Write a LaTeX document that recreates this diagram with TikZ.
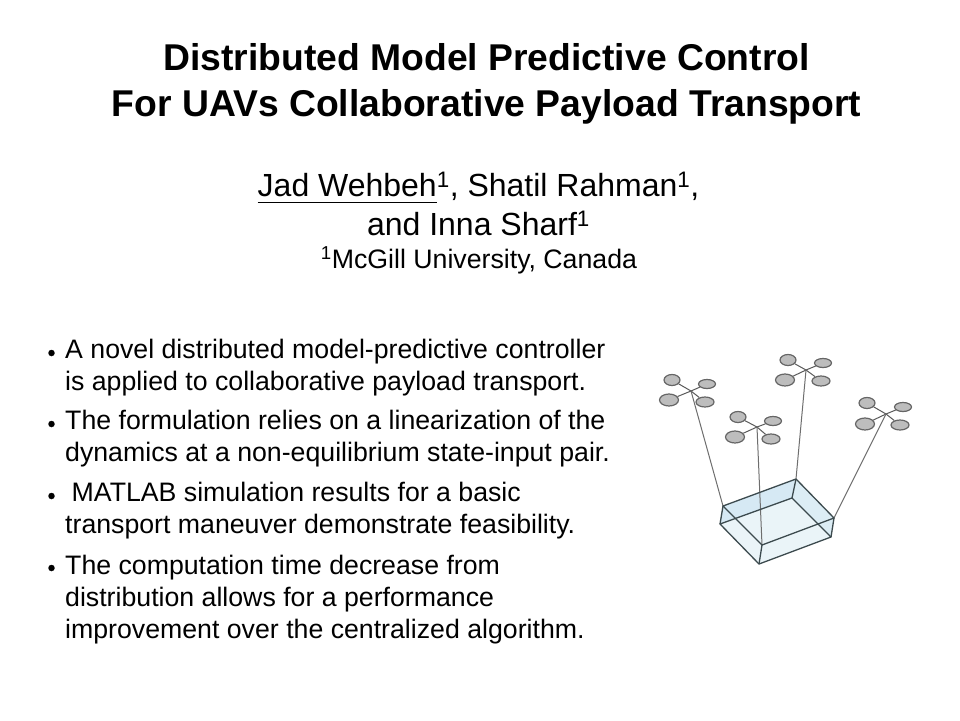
\documentclass[tikz,border=0pt]{standalone}
\usepackage{fontspec}
\setmainfont{Liberation Sans}
\usetikzlibrary{shapes.geometric}

\definecolor{rotorgray}{HTML}{BDBDBD}
\definecolor{rotorline}{HTML}{666666}
\definecolor{armline}{HTML}{5A5A5A}
\definecolor{cableline}{HTML}{6E6E6E}
\definecolor{boxline}{HTML}{3C4A4E}
\definecolor{boxback}{HTML}{D6E9F4}
\definecolor{boxfloor}{HTML}{EAF4F8}
\definecolor{boxside}{HTML}{DCEDF5}

\begin{document}
\begin{tikzpicture}[
    x=1pt, y=-1pt,
    title/.style={font=\fontsize{37.3}{46}\selectfont\bfseries, align=center, anchor=center},
    author/.style={font=\fontsize{32}{39}\selectfont, align=center, anchor=center},
    affil/.style={font=\fontsize{26.7}{30}\selectfont, anchor=center},
    bullettext/.style={font=\fontsize{26.7}{32}\selectfont, align=left, anchor=north west, inner sep=0pt},
    dot/.style={circle, fill=black, inner sep=0pt, minimum size=6.5pt},
    rotor/.style={ellipse, draw=rotorline, fill=rotorgray, line width=1.2pt, inner sep=0pt},
    rotorA/.style={rotor, minimum width=16pt, minimum height=11pt},
    rotorB/.style={rotor, minimum width=17pt, minimum height=9pt},
    rotorC/.style={rotor, minimum width=19pt, minimum height=12pt},
    rotorD/.style={rotor, minimum width=18pt, minimum height=10pt},
    arm/.style={draw=armline, line width=1pt},
    cable/.style={draw=cableline, line width=1pt},
    boxedge/.style={draw=boxline, line width=1.3pt, line join=round}
]

\useasboundingbox[fill=white] (0,0) rectangle (960,720);

% Define heading
\node[title] (heading) at (486.5,84) {Distributed Model Predictive Control\\For UAVs Collaborative Payload Transport};
\node[author] (authors) at (478.5,204) {\underline{\vphantom{,}Jad Wehbeh}\textsuperscript{1}, Shatil Rahman\textsuperscript{1},\\and Inna Sharf\textsuperscript{1}};
\node[affil] (mcgill) at (479,260) {\textsuperscript{1}McGill University, Canada};

% Define bullets
\node[dot] (d1) at (51.5,353) {};
\node[dot] (d2) at (51.5,424) {};
\node[dot] (d3) at (51.5,496) {};
\node[dot] (d4) at (51.5,568) {};
\node[bullettext] (b1) at (65,339) {A novel distributed model-predictive controller\\is applied to collaborative payload transport.};
\node[bullettext] (b2) at (65,410) {The formulation relies on a linearization of the\\dynamics at a non-equilibrium state-input pair.};
\node[bullettext] (b3) at (65,482) {\hspace*{6.5pt}MATLAB simulation results for a basic\\transport maneuver demonstrate feasibility.};
\node[bullettext] (b4) at (65,555) {The computation time decrease from\\distribution allows for a performance\\improvement over the centralized algorithm.};

% Define box corners
\coordinate (ta) at (723,506);
\coordinate (tb) at (796,479);
\coordinate (tc) at (834,518);
\coordinate (td) at (762,545);
\coordinate (ba) at (720,524);
\coordinate (bb) at (792,498);
\coordinate (bc) at (831,537);
\coordinate (bd) at (759,564);

% Define box faces
\fill[boxfloor] (ta) -- (tb) -- (tc) -- (bc) -- (bd) -- (ba) -- cycle;
\fill[boxback] (ta) -- (tb) -- (bb) -- (ba) -- cycle;
\fill[boxside] (tb) -- (tc) -- (bc) -- (bb) -- cycle;

% Define hubs
\coordinate (h1) at (691,391);
\coordinate (h2) at (757,427);
\coordinate (h3) at (806,370);
\coordinate (h4) at (886,414);

% Define rotors
\node[rotorA] (r1a) at (672,380) {};
\node[rotorB] (r1b) at (707,384) {};
\node[rotorC] (r1c) at (669,400) {};
\node[rotorD] (r1d) at (705,402) {};
\node[rotorA] (r2a) at (738,417) {};
\node[rotorB] (r2b) at (773,421) {};
\node[rotorC] (r2c) at (735,437) {};
\node[rotorD] (r2d) at (771,439) {};
\node[rotorA] (r3a) at (788,360) {};
\node[rotorB] (r3b) at (823,363) {};
\node[rotorC] (r3c) at (785,380) {};
\node[rotorD] (r3d) at (821,381) {};
\node[rotorA] (r4a) at (867,403) {};
\node[rotorB] (r4b) at (903,407) {};
\node[rotorC] (r4c) at (865,424) {};
\node[rotorD] (r4d) at (900,425) {};

% Define arms
\draw[arm] (r1a) -- (h1) -- (r1d);
\draw[arm] (r1c) -- (h1) -- (r1b);
\draw[arm] (r2a) -- (h2) -- (r2d);
\draw[arm] (r2c) -- (h2) -- (r2b);
\draw[arm] (r3a) -- (h3) -- (r3d);
\draw[arm] (r3c) -- (h3) -- (r3b);
\draw[arm] (r4a) -- (h4) -- (r4d);
\draw[arm] (r4c) -- (h4) -- (r4b);

% Define cables
\draw[cable] (h1) -- (ta);
\draw[cable] (h2) -- (td);
\draw[cable] (h3) -- (tb);
\draw[cable] (h4) -- (tc);

% Define box edges
\draw[boxedge] (ta) -- (tb) -- (tc) -- (td) -- cycle;
\draw[boxedge] (ba) -- (bb) -- (bc) -- (bd) -- cycle;
\draw[boxedge] (ta) -- (ba);
\draw[boxedge] (tb) -- (bb);
\draw[boxedge] (tc) -- (bc);
\draw[boxedge] (td) -- (bd);

\end{tikzpicture}
\end{document}
